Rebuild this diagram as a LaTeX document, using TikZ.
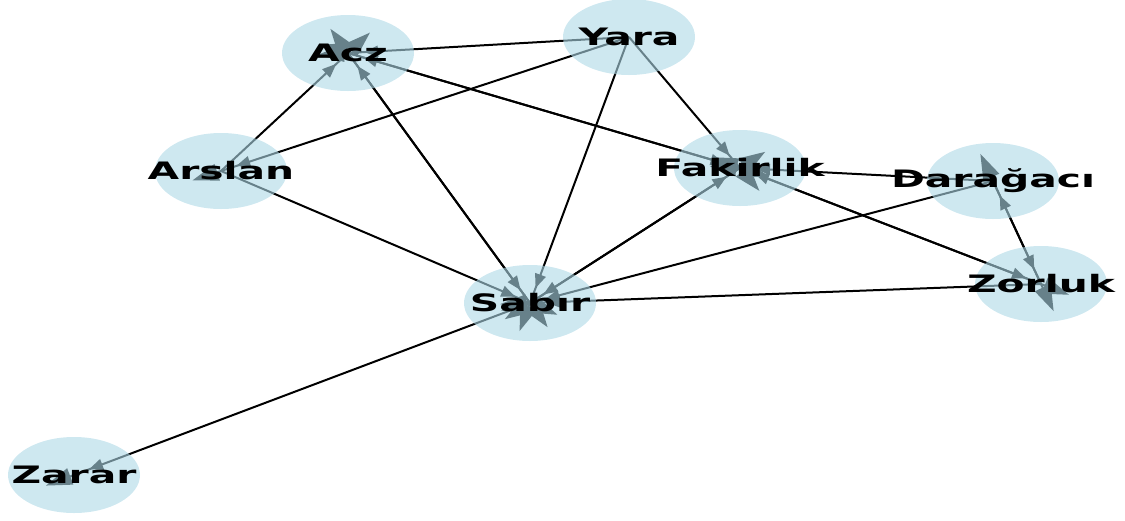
\documentclass[tikz,border=0pt]{standalone}
\usepackage{fontspec}
\newfontfamily\nodefont{DejaVu Sans}[FakeStretch=1.7]
\usetikzlibrary{shapes.geometric,arrows.meta,decorations.markings,backgrounds}
\definecolor{lightblue}{RGB}{173,216,230}

\begin{document}
\begin{tikzpicture}
  [x=1pt,y=-1pt,
   wordN/.style={ellipse,fill=lightblue,fill opacity=0.6,text opacity=1,
     minimum width=132pt,minimum height=76pt,inner sep=0pt,
     font=\nodefont\bfseries\fontsize{24}{28}\selectfont,
     execute at begin node={\hbox to 0pt\bgroup\hss},
     execute at end node={\hss\egroup}},
   link/.style={line width=2pt,shorten >=-30pt,
     -{Triangle[length=26pt,width=17pt]},
     postaction={decorate,decoration={markings,
       mark=at position -16pt with {\arrow{Triangle[length=14pt,width=11pt]}}}}}]

  \useasboundingbox (0,0) rectangle (1125,520);

  \node[wordN] (acz) at (348,53) {Acz};
  \node[wordN] (yara) at (629,37) {Yara};
  \node[wordN] (arslan) at (221,171) {Arslan};
  \node[wordN] (fakirlik) at (740,168) {Fakirlik};
  \node[wordN] (daragaci) at (993,181) {Darağacı};
  \node[wordN] (zorluk) at (1041,284) {Zorluk};
  \node[wordN] (sabir) at (530,303) {Sabır};
  \node[wordN] (zarar) at (74,475) {Zarar};

  \begin{scope}[on background layer]
    \draw[link] (yara.center) -- (acz.center);
    \draw[link] (yara.center) -- (arslan.center);
    \draw[link] (yara.center) -- (sabir.center);
    \draw[link] (yara.center) -- (fakirlik.center);
    \draw[link] (arslan.center) -- (acz.center);
    \draw[link] (arslan.center) -- (sabir.center);
    \draw[link] (sabir.center) -- (acz.center);
    \draw[link] (acz.center) -- (sabir.center);
    \draw[link] (fakirlik.center) -- (acz.center);
    \draw[link] (acz.center) -- (fakirlik.center);
    \draw[link] (sabir.center) -- (fakirlik.center);
    \draw[link] (fakirlik.center) -- (sabir.center);
    \draw[link] (daragaci.center) -- (fakirlik.center);
    \draw[link] (zorluk.center) -- (fakirlik.center);
    \draw[link] (fakirlik.center) -- (zorluk.center);
    \draw[link] (daragaci.center) -- (zorluk.center);
    \draw[link] (zorluk.center) -- (daragaci.center);
    \draw[link] (daragaci.center) -- (sabir.center);
    \draw[link] (zorluk.center) -- (sabir.center);
    \draw[link] (sabir.center) -- (zarar.center);
  \end{scope}

\end{tikzpicture}
\end{document}
